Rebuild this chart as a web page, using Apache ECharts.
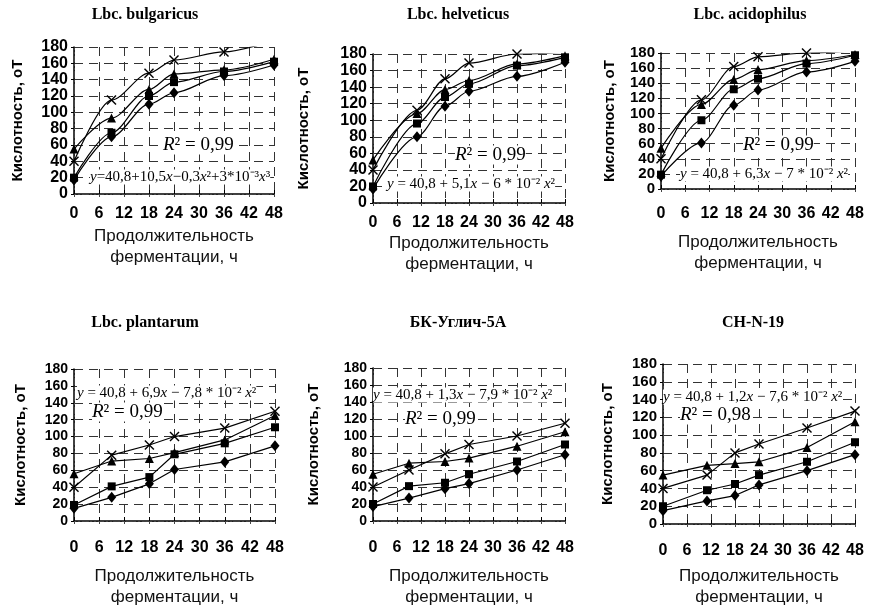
<!DOCTYPE html>
<html>
<head>
<meta charset="utf-8">
<script src="https://cdn.jsdelivr.net/npm/echarts@6/dist/echarts.min.js"></script>
<style>
  html, body { margin: 0; padding: 0; background: #fff; }
  #chart { width: 872px; height: 609px; }
</style>
</head>
<body>
<div id="chart"></div>
<script>
const titles = ['Lbc. bulgaricus', 'Lbc. helveticus', 'Lbc. acidophilus', 'Lbc. plantarum', 'БК-Углич-5А', 'CH-N-19'];

// fermentation time, h (one row per panel)
const hours = [
  [0, 9, 18, 24, 36, 48],
  [0, 11, 18, 24, 36, 48],
  [0, 10, 18, 24, 36, 48],
  [0, 9, 18, 24, 36, 48],
  [0, 9, 18, 24, 36, 48],
  [0, 11, 18, 24, 36, 48]
];

// acidity, °T
const diamondVals = [
  [17, 70, 110, 124, 145, 158],
  [17, 80, 117, 135, 153, 170],
  [17, 61, 111, 131, 155, 169],
  [15, 28, 44, 61, 70, 89],
  [17, 27, 38, 44, 60, 78],
  [15, 26, 32, 44, 60, 78]
];
const squareVals = [
  [20, 75, 120, 137, 150, 162],
  [20, 96, 128, 144, 166, 176],
  [19, 91, 132, 146, 166, 177],
  [19, 41, 52, 79, 92, 111],
  [20, 41, 45, 55, 70, 90],
  [20, 38, 45, 55, 70, 92]
];
const triangleVals = [
  [55, 93, 128, 147, 152, 165],
  [52, 108, 137, 148, 168, 178],
  [54, 112, 145, 158, 170, 178],
  [56, 71, 74, 81, 96, 125],
  [55, 68, 70, 74, 88, 105],
  [55, 66, 68, 70, 86, 115]
];
const crossVals = [
  [40, 115, 148, 164, 174, 188],
  [40, 112, 150, 169, 180, 182],
  [40, 118, 162, 175, 180, 183],
  [40, 78, 90, 100, 110, 130],
  [40, 60, 79, 90, 100, 115],
  [40, 55, 80, 90, 108, 127]
];

const equations = [
  '{i|y}=40,8+10,5{i|x}−0,3{i|x}²+3*10⁻³{i|x}³',
  '{i|y} = 40,8 + 5,1{i|x} − 6 * 10⁻² {i|x}²',
  '{i|y} = 40,8 + 6,3{i|x} − 7 * 10⁻² {i|x}²',
  '{i|y} = 40,8 + 6,9{i|x} − 7,8 * 10⁻² {i|x}²',
  '{i|y} = 40,8 + 1,3{i|x} − 7,9 * 10⁻² {i|x}²',
  '{i|y} = 40,8 + 1,2{i|x} − 7,6 * 10⁻² {i|x}²'
];
const rSquared = ['0,99', '0,99', '0,99', '0,99', '0,99', '0,98'];

// panel layout (pixels)
const panels = [
  { left: 74,  top: 47,  width: 200, height: 147, lab: 12, nameGap: 32, yGap: 49, yFont: 16, smooth: true,  title: [145, 15],  eq: [90, 177],  r2: [163, 145] },
  { left: 373, top: 54,  width: 192, height: 149, lab: 12, nameGap: 30, yGap: 62, yFont: 16, smooth: true,  title: [458, 15],  eq: [387, 184], r2: [455, 155] },
  { left: 661, top: 53,  width: 194, height: 136, lab: 17, nameGap: 43, yGap: 44, yFont: 15, smooth: true,  title: [750, 15],  eq: [680, 174], r2: [743, 145] },
  { left: 74,  top: 369, width: 201, height: 153, lab: 19, nameGap: 45, yGap: 46, yFont: 14, smooth: false, title: [145, 323], eq: [77, 393],  r2: [92, 412] },
  { left: 373, top: 368, width: 192, height: 153, lab: 19, nameGap: 45, yGap: 52, yFont: 14, smooth: false, title: [458, 323], eq: [373, 395], r2: [405, 419] },
  { left: 663, top: 364, width: 192, height: 165, lab: 19, nameGap: 42, yGap: 48, yFont: 15, smooth: false, title: [753, 323], eq: [663, 397], r2: [680, 415] }
];

const crossPath = 'path://M0,1L1,0L5,4L9,0L10,1L6,5L10,9L9,10L5,6L1,10L0,9L4,5Z';
const markers = [
  { vals: diamondVals,  symbol: 'diamond',  size: [9, 11] },
  { vals: squareVals,   symbol: 'rect',     size: 8 },
  { vals: triangleVals, symbol: 'triangle', size: 9 },
  { vals: crossVals,    symbol: crossPath,  size: 10 }
];

const grid = [], xAxis = [], yAxis = [], series = [], graphic = [];
const gridLine = { show: true, lineStyle: { color: '#333', width: 1, type: [9, 6] } };
const dotted = { show: true, lineStyle: { color: '#444', width: 1, type: [2, 2] } };

panels.forEach((p, i) => {
  grid.push({ left: p.left, top: p.top, width: p.width, height: p.height });

  xAxis.push({
    type: 'value', gridIndex: i, min: 0, max: 48, interval: 6,
    axisLine: { lineStyle: { color: '#000', width: 1.5 } },
    axisTick: { inside: true, length: 4, lineStyle: { color: '#000' } },
    axisLabel: { margin: p.lab, color: '#000', fontFamily: 'Liberation Sans', fontWeight: 'bold', fontSize: 16,
                 showMinLabel: true, showMaxLabel: true },
    splitLine: gridLine,
    name: 'Продолжительность\nферментации, ч',
    nameLocation: 'middle', nameGap: p.nameGap,
    nameTextStyle: { color: '#111', fontFamily: 'Liberation Sans', fontSize: 17, lineHeight: 21 }
  });
  xAxis.push({
    type: 'value', gridIndex: i, position: 'top', min: 0, max: 48, interval: 6,
    axisLine: dotted, axisTick: { inside: true, length: 3, lineStyle: { color: '#444' } },
    axisLabel: { show: false }, splitLine: { show: false }
  });

  yAxis.push({
    type: 'value', gridIndex: i, min: 0, max: 180, interval: 20,
    axisLine: { show: true, lineStyle: { color: '#000', width: 1.5 } },
    axisTick: { show: true, length: 3, lineStyle: { color: '#000' } },
    axisLabel: { margin: 6, color: '#000', fontFamily: 'Liberation Sans', fontWeight: 'bold', fontSize: p.yFont,
                 lineHeight: 10, showMinLabel: true, showMaxLabel: true, hideOverlap: false },
    splitLine: gridLine,
    name: 'Кислотность, оТ',
    nameLocation: 'middle', nameGap: p.yGap,
    nameTextStyle: { color: '#000', fontFamily: 'Liberation Sans', fontWeight: 'bold', fontSize: 15 }
  });
  yAxis.push({
    type: 'value', gridIndex: i, position: 'right', min: 0, max: 180, interval: 20,
    axisLine: dotted, axisTick: { show: false },
    axisLabel: { show: false }, splitLine: { show: false }
  });

  markers.forEach(m => {
    series.push({
      type: 'line', xAxisIndex: 2 * i, yAxisIndex: 2 * i,
      data: hours[i].map((h, j) => [h, m.vals[i][j]]),
      smooth: p.smooth ? 0.3 : false,
      smoothMonotone: 'x',
      clip: true,
      symbol: m.symbol, symbolSize: m.size, showSymbol: true,
      lineStyle: { color: '#000', width: 1.2 },
      itemStyle: { color: '#000' },
      animation: false
    });
  });

  graphic.push({
    type: 'text', x: p.title[0], y: p.title[1], z: 100,
    style: { text: titles[i], align: 'center', verticalAlign: 'middle', fill: '#000',
             fontFamily: 'Liberation Serif', fontWeight: 'bold', fontSize: 16 }
  });
  graphic.push({
    type: 'text', x: p.eq[0], y: p.eq[1], z: 100,
    style: { text: equations[i], align: 'left', verticalAlign: 'middle', fill: '#000',
             fontFamily: 'Liberation Serif', fontSize: 15, backgroundColor: '#fff',
             rich: { i: { fontFamily: 'Liberation Serif', fontStyle: 'italic', fontSize: 15 } } }
  });
  graphic.push({
    type: 'text', x: p.r2[0], y: p.r2[1], z: 100,
    style: { text: '{i|R}² = ' + rSquared[i], align: 'left', verticalAlign: 'middle', fill: '#000',
             fontFamily: 'Liberation Serif', fontSize: 19, backgroundColor: '#fff',
             rich: { i: { fontFamily: 'Liberation Serif', fontStyle: 'italic', fontSize: 19 } } }
  });
});

const chart = echarts.init(document.getElementById('chart'), null, { renderer: 'canvas' });
chart.setOption({
  backgroundColor: '#fff',
  animation: false,
  grid, xAxis, yAxis, series, graphic
});
</script>
</body>
</html>
